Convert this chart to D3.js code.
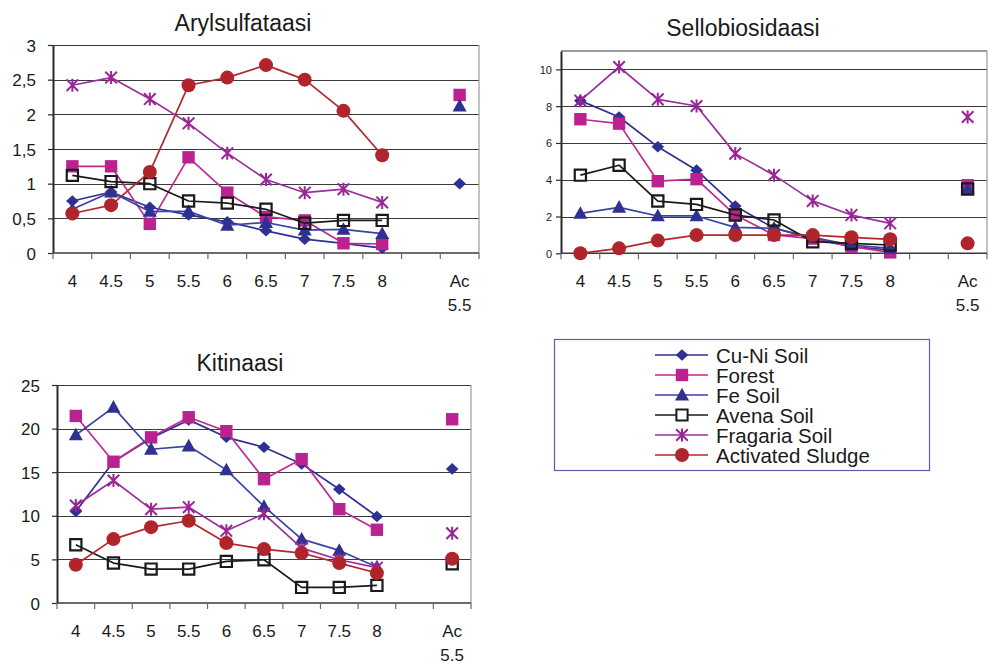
<!DOCTYPE html>
<html>
<head>
<meta charset="utf-8">
<script src="https://cdn.jsdelivr.net/npm/d3@7"></script>
<style>
  html, body { margin: 0; padding: 0; background: #fff; }
  svg { display: block; font-family: "Liberation Sans", Arial, sans-serif; }
</style>
</head>
<body>
<svg id="chart" width="989" height="661"></svg>
<script>
// pH categories; the empty slot separates the acid control ("Ac 5.5")
const categories = ["4", "4.5", "5", "5.5", "6", "6.5", "7", "7.5", "8", "", "Ac 5.5"];

const seriesNames = ["Cu-Ni Soil", "Forest", "Fe Soil", "Avena Soil", "Fragaria Soil", "Activated Sludge"];

// Arylsulfataasi
const arylCuNi     = [0.75, 0.88, 0.66, 0.55, 0.45, 0.32, 0.20, 0.14, 0.07, null, 1.00];
const arylForest   = [1.25, 1.25, 0.42, 1.38, 0.87, 0.52, 0.47, 0.14, 0.13, null, 2.28];
const arylFe       = [0.63, 0.88, 0.60, 0.60, 0.40, 0.44, 0.33, 0.34, 0.28, null, 2.12];
const arylAvena    = [1.12, 1.03, 1.00, 0.75, 0.72, 0.63, 0.43, 0.47, 0.47, null, null];
const arylFragaria = [2.42, 2.53, 2.22, 1.87, 1.44, 1.06, 0.87, 0.92, 0.73, null, null];
const arylSludge   = [0.57, 0.69, 1.17, 2.42, 2.53, 2.71, 2.50, 2.05, 1.41, null, null];

// Sellobiosidaasi
const selloCuNi     = [8.30, 7.41, 5.79, 4.52, 2.57, 1.36, 0.81, 0.36, 0.18, null, 3.50];
const selloForest   = [7.29, 7.05, 3.92, 4.03, 2.08, 1.00, 0.80, 0.36, 0.05, null, 3.70];
const selloFe       = [2.17, 2.50, 2.03, 2.03, 1.41, 1.36, 0.87, 0.45, 0.27, null, 3.50];
const selloAvena    = [4.25, 4.79, 2.84, 2.66, 2.08, 1.81, 0.63, 0.54, 0.45, null, 3.50];
const selloFragaria = [8.30, 10.13, 8.37, 8.01, 5.42, 4.25, 2.85, 2.08, 1.63, null, 7.41];
const selloSludge   = [0.00, 0.27, 0.69, 0.99, 0.99, 0.99, 0.99, 0.87, 0.76, null, 0.54];

// Kitinaasi
const kitiCuNi     = [10.5, 16.2, 18.9, 21.0, 19.0, 17.86, 15.95, 13.05, 9.92, null, 15.38];
const kitiForest   = [21.45, 16.2, 19.0, 21.3, 19.7, 14.2, 16.5, 10.76, 8.4, null, 21.07];
const kitiFe       = [19.27, 22.44, 17.63, 18.0, 15.27, 11.07, 7.33, 6.03, 4.12, null, null];
const kitiAvena    = [6.68, 4.58, 3.89, 3.89, 4.77, 4.96, 1.79, 1.79, 2.02, null, 4.5];
const kitiFragaria = [11.18, 14.05, 10.76, 10.99, 8.28, 10.23, 6.3, 4.96, 4.05, null, 8.0];
const kitiSludge   = [4.39, 7.33, 8.7, 9.43, 6.87, 6.18, 5.73, 4.58, 3.44, null, 5.08];

// Y tick values per panel
const arylTicks  = [0, 0.5, 1, 1.5, 2, 2.5, 3];
const selloTicks = [0, 2, 4, 6, 8, 10];
const kitiTicks  = [0, 5, 10, 15, 20, 25];

// Series styling (line colour, marker type, marker fill, marker stroke)
const styles = [
  { line: "#2e3192", marker: "diamond",  fill: "#2e3192", stroke: "none" },
  { line: "#bf2a92", marker: "square",   fill: "#bb2290", stroke: "none" },
  { line: "#3a43a6", marker: "triangle", fill: "#2e3192", stroke: "none" },
  { line: "#1a1a1a", marker: "open",     fill: "none",    stroke: "#1a1a1a" },
  { line: "#9d2f9d", marker: "star",     fill: "none",    stroke: "#9a2596" },
  { line: "#b3282d", marker: "circle",   fill: "#b0252b", stroke: "none" }
];

function markerPath(type) {
  switch (type) {
    case "diamond":  return "M0,-5.8L6.3,0L0,5.8L-6.3,0Z";
    case "square":   return "M-6.2,-6.2H6.2V6.2H-6.2Z";
    case "open":     return "M-5.6,-5.6H5.6V5.6H-5.6Z";
    case "triangle": return "M0,-7.2L7,5.4L-7,5.4Z";
    case "circle":   return d3.arc()({ innerRadius: 0, outerRadius: 7, startAngle: 0, endAngle: 2 * Math.PI });
    case "star":     return "M0,-6.5V6.5M-5.8,-5.8L5.8,5.8M5.8,-5.8L-5.8,5.8";
  }
}

const panels = [
  {
    title: "Arylsulfataasi", titleX: 243, titleY: 31,
    x0: 53, x1: 479, yTopPx: 45, yBottomPx: 253, yMax: 3,
    ticks: arylTicks, fmt: v => String(v).replace(".", ","), tickFont: 17, tickRight: 36,
    labelY: 287, topBorder: false,
    data: [arylCuNi, arylForest, arylFe, arylAvena, arylFragaria, arylSludge]
  },
  {
    title: "Sellobiosidaasi", titleX: 743, titleY: 36,
    x0: 561, x1: 987, yTopPx: 51, yBottomPx: 253.3, yMax: 11,
    ticks: selloTicks, fmt: v => String(v), tickFont: 11, tickRight: 552,
    labelY: 287, topBorder: true,
    data: [selloCuNi, selloForest, selloFe, selloAvena, selloFragaria, selloSludge]
  },
  {
    title: "Kitinaasi", titleX: 240, titleY: 371,
    x0: 57, x1: 471, yTopPx: 385, yBottomPx: 603, yMax: 25,
    ticks: kitiTicks, fmt: v => String(v), tickFont: 17, tickRight: 40,
    labelY: 637, topBorder: false,
    data: [kitiCuNi, kitiForest, kitiFe, kitiAvena, kitiFragaria, kitiSludge]
  }
];

const svg = d3.select("#chart");

panels.forEach(p => {
  const g = svg.append("g");
  const x = d3.scaleBand().domain(d3.range(categories.length)).range([p.x0, p.x1]).padding(0);
  const y = d3.scaleLinear().domain([0, p.yMax]).range([p.yBottomPx, p.yTopPx]);

  // title
  g.append("text")
    .attr("x", p.titleX).attr("y", p.titleY)
    .attr("text-anchor", "middle")
    .attr("font-size", 23).attr("fill", "#1a1a1a")
    .text(p.title);

  // horizontal gridlines
  g.append("g").selectAll("line")
    .data(p.ticks.filter(t => t > 0))
    .join("line")
    .attr("x1", p.x0).attr("x2", p.x1)
    .attr("y1", d => Math.round(y(d)) + 0.5).attr("y2", d => Math.round(y(d)) + 0.5)
    .attr("stroke", "#3a3a3a").attr("stroke-width", 1.2);

  if (p.topBorder) {
    g.append("line")
      .attr("x1", p.x0).attr("x2", p.x1)
      .attr("y1", p.yTopPx).attr("y2", p.yTopPx)
      .attr("stroke", "#3a3a3a").attr("stroke-width", 1.2);
  }

  // right border of the plot area
  g.append("line")
    .attr("x1", p.x1).attr("x2", p.x1)
    .attr("y1", p.yTopPx).attr("y2", p.yBottomPx)
    .attr("stroke", "#9a9a9a").attr("stroke-width", 1.2);

  // y axis
  const yAxis = d3.axisLeft(y).tickValues(p.ticks).tickFormat(p.fmt).tickSize(5).tickSizeOuter(0);
  const ya = g.append("g").attr("transform", `translate(${p.x0},0)`).call(yAxis);
  ya.select(".domain").attr("stroke", "#2a2a2a").attr("stroke-width", 2);
  ya.selectAll(".tick line").attr("stroke", "#2a2a2a").attr("stroke-width", 1.2);
  ya.selectAll(".tick text")
    .attr("font-size", p.tickFont).attr("fill", "#1a1a1a")
    .attr("font-family", "Liberation Sans, Arial, sans-serif")
    .attr("x", p.tickRight - p.x0).attr("dy", "0.36em");

  // x axis line with category boundary ticks
  g.append("line")
    .attr("x1", p.x0).attr("x2", p.x1)
    .attr("y1", p.yBottomPx).attr("y2", p.yBottomPx)
    .attr("stroke", "#3a3a3a").attr("stroke-width", 1.5);
  const bounds = d3.range(categories.length + 1).map(i => i < categories.length ? x(i) : p.x1);
  g.append("g").selectAll("line")
    .data(bounds)
    .join("line")
    .attr("x1", d => d).attr("x2", d => d)
    .attr("y1", p.yBottomPx).attr("y2", p.yBottomPx + 6)
    .attr("stroke", "#6a6a6a").attr("stroke-width", 1.2);

  // category labels
  const lab = g.append("g").selectAll("text")
    .data(categories.map((c, i) => ({ c, i })).filter(d => d.c !== ""))
    .join("text")
    .attr("x", d => x(d.i) + x.bandwidth() / 2)
    .attr("y", p.labelY)
    .attr("text-anchor", "middle")
    .attr("font-size", 17).attr("fill", "#1a1a1a");
  lab.each(function (d) {
    const parts = d.c.split(" ");
    d3.select(this).selectAll("tspan").data(parts).join("tspan")
      .attr("x", x(d.i) + x.bandwidth() / 2)
      .attr("dy", (t, k) => k === 0 ? 0 : 24)
      .text(t => t);
  });

  // series lines and markers
  p.data.forEach((vals, si) => {
    const st = styles[si];
    const pts = vals.map((v, i) => ({ v, i }));
    const line = d3.line()
      .defined(d => d.v !== null && d.i < 9)
      .x(d => x(d.i) + x.bandwidth() / 2)
      .y(d => y(d.v));
    g.append("path")
      .datum(pts)
      .attr("d", line)
      .attr("fill", "none")
      .attr("stroke", st.line)
      .attr("stroke-width", 1.7)
      .attr("stroke-linejoin", "round");

    g.append("g").selectAll("path")
      .data(pts.filter(d => d.v !== null))
      .join("path")
      .attr("transform", d => `translate(${x(d.i) + x.bandwidth() / 2},${y(d.v)})`)
      .attr("d", markerPath(st.marker))
      .attr("fill", st.fill)
      .attr("stroke", st.stroke)
      .attr("stroke-width", st.marker === "star" ? 2 : 2.2);
  });
});

// legend
const lg = svg.append("g");
lg.append("rect")
  .attr("x", 554.5).attr("y", 339.5).attr("width", 375).attr("height", 131)
  .attr("fill", "#fff").attr("stroke", "#5a5da8").attr("stroke-width", 1.2);

seriesNames.forEach((name, i) => {
  const st = styles[i];
  const cy = 355 + i * 20;
  lg.append("line")
    .attr("x1", 655).attr("x2", 708).attr("y1", cy).attr("y2", cy)
    .attr("stroke", st.line).attr("stroke-width", 1.7);
  lg.append("path")
    .attr("transform", `translate(682,${cy})`)
    .attr("d", markerPath(st.marker))
    .attr("fill", st.marker === "open" ? "#fff" : st.fill)
    .attr("stroke", st.stroke)
    .attr("stroke-width", 2);
  lg.append("text")
    .attr("x", 716).attr("y", cy + 7.5)
    .attr("font-size", 20.5).attr("fill", "#1a1a1a")
    .text(name);
});
</script>
</body>
</html>
